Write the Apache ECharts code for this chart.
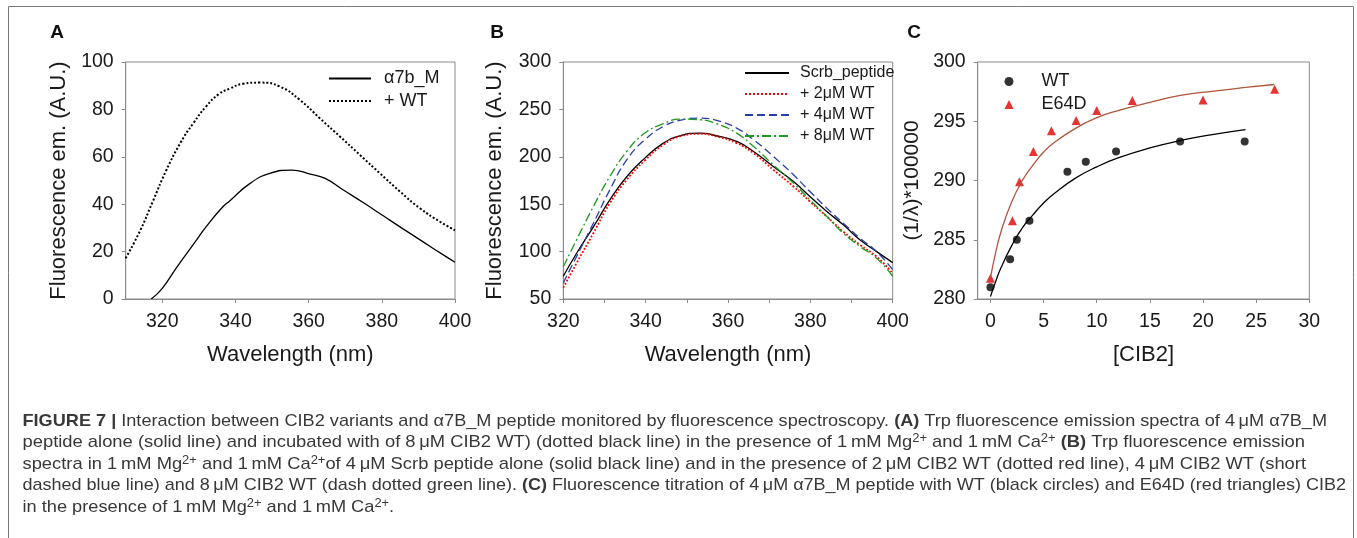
<!DOCTYPE html>
<html>
<head>
<meta charset="utf-8">
<script src="https://cdn.jsdelivr.net/npm/echarts@6.0.0/dist/echarts.min.js"></script>
<style>
html,body{margin:0;padding:0;background:#fff;}
#c{width:1357px;height:538px;}
</style>
</head>
<body>
<div id="c"></div>
<script>
// ---------- Panel A data ----------
const aSolidX = [317, 320, 324, 328, 332, 336, 338.5, 344, 349.4, 355.4, 360.4, 364.5, 369.5, 375, 380.4, 385.8, 391.3, 396.8, 400];
const aSolidY = [0, 4.5, 13.5, 22, 30.5, 38, 41.5, 48.8, 53, 54.4, 52.7, 50.9, 46, 40.6, 35.1, 29.6, 24.1, 18.6, 15.5];
const aDotX = [310, 314, 317.5, 321, 325, 328.5, 332, 335.5, 338.5, 342, 346.7, 352.2, 357.6, 363.1, 368.6, 374, 379.5, 385, 390.4, 395.9, 400];
const aDotY = [17.2, 29, 41.5, 54, 66, 74.2, 81.3, 86.5, 88.8, 90.8, 91.3, 89.6, 84, 76.2, 68.5, 60.8, 53, 45.3, 38.3, 32.6, 29];
const aXTicks = [320, 340, 360, 380, 400];

// ---------- Panel B data ----------
const bX = [320, 323.2, 327.3, 331.3, 335.4, 339.8, 344.3, 348.3, 353.2, 357.2, 362.1, 366.2, 371, 375.9, 379.9, 384, 388, 392.1, 396.1, 400];
const bScrb = [74, 98, 126, 154.6, 179, 198.6, 214.4, 222.2, 225, 222.2, 216.2, 205.6, 189.8, 173.9, 158.1, 142.3, 128.2, 112.3, 100, 88.4];
const b2uM = [62, 87.7, 119.4, 151, 175.7, 196.1, 212.7, 221.5, 224.3, 221.5, 214.4, 203.9, 186.3, 168.7, 152.8, 137, 121.1, 107, 94.7, 77];
const b4uM = [67, 94.7, 129.9, 165.1, 196.8, 218, 232, 238.4, 240.8, 238.4, 230.3, 218, 200.4, 181, 163.4, 145.8, 129.9, 114.1, 100, 81];
const b8uM = [84, 112.3, 147.5, 179.2, 205.6, 225, 234.9, 239.8, 239.1, 234.9, 225, 210.9, 191.5, 172.2, 154.6, 137, 119.4, 105.3, 93, 74];
const bXTicks = [320, 330, 340, 350, 360, 370, 380, 390, 400];
const bXLabels = [320, 340, 360, 380, 400];

// ---------- Panel C data ----------
const cWtX = [0, 1.85, 2.48, 3.67, 7.24, 8.97, 11.82, 17.84, 23.92];
const cWtY = [281.0, 283.35, 285.0, 286.6, 290.73, 291.58, 292.45, 293.3, 293.3];
const cE64X = [0, 2.07, 2.73, 4.04, 5.74, 8.06, 10, 13.35, 20, 26.74];
const cE64Y = [281.75, 286.6, 289.9, 292.45, 294.2, 295.07, 295.9, 296.76, 296.8, 297.7];
const cWtFitX = [0, 0.5, 1, 2, 3, 4, 5, 6, 8, 10, 12, 15, 18, 21, 24];
const cWtFitY = [280.2, 281.5, 282.65, 284.5, 286.0, 287.1, 288.1, 288.9, 290.2, 291.15, 291.9, 292.75, 293.4, 293.9, 294.3];
const cE64FitX = [0, 0.5, 1, 2, 3, 4, 5, 6, 8, 10, 12, 15, 18, 21, 24, 26.7];
const cE64FitY = [281.8, 283.95, 285.7, 288.2, 290.0, 291.3, 292.4, 293.2, 294.4, 295.3, 295.9, 296.6, 297.2, 297.55, 297.85, 298.1];
const cXTicks = [0, 5, 10, 15, 20, 25, 30];

// ---------- caption text ----------
const capLines = [
  "{b|FIGURE 7 |} Interaction between CIB2 variants and α7B_M peptide monitored by fluorescence spectroscopy. {b|(A)} Trp fluorescence emission spectra of 4\u2009μM α7B_M",
  "peptide alone (solid line) and incubated with of 8\u2009μM CIB2 WT) (dotted black line) in the presence of 1\u2009mM Mg{sup|2+} and 1\u2009mM Ca{sup|2+} {b|(B)} Trp fluorescence emission",
  "spectra in 1\u2009mM Mg{sup|2+} and 1\u2009mM Ca{sup|2+}of 4\u2009μM Scrb peptide alone (solid black line) and in the presence of 2\u2009μM CIB2 WT (dotted red line), 4\u2009μM CIB2 WT (short",
  "dashed blue line) and 8\u2009μM CIB2 WT (dash dotted green line). {b|(C)} Fluorescence titration of 4\u2009μM α7B_M peptide with WT (black circles) and E64D (red triangles) CIB2",
  "in the presence of 1\u2009mM Mg{sup|2+} and 1\u2009mM Ca{sup|2+}."
];
const capTargets = [1304.5, 1282.5, 1283.5, 1323.5, null];

const F = 'Liberation Sans, Arial, sans-serif';
const AX = '#8a8a8a';
const TXT = '#1a1a1a';

function zip(xs, ys) { return xs.map((x, i) => [x, ys[i]]); }

function xAx(g, min, max, labels, ticks, name) {
  return {
    type: 'value', gridIndex: g, min: min, max: max,
    name: name, nameLocation: 'middle', nameGap: 45,
    nameTextStyle: { fontSize: 22, color: TXT, fontFamily: F },
    axisLine: { show: true, onZero: false, lineStyle: { color: AX, width: 1 } },
    axisTick: { show: true, inside: false, length: 4, customValues: ticks, lineStyle: { color: AX } },
    axisLabel: { customValues: labels, fontSize: 19.5, color: TXT, fontFamily: F, margin: 13 },
    splitLine: { show: false }
  };
}
function yAx(g, min, max, interval, name, gap, fs) {
  return {
    type: 'value', gridIndex: g, min: min, max: max, interval: interval,
    name: name, nameLocation: 'middle', nameGap: gap,
    nameTextStyle: { fontSize: fs, color: TXT, fontFamily: F },
    axisLine: { show: true, onZero: false, lineStyle: { color: AX, width: 1 } },
    axisTick: { show: true, inside: false, length: 4, lineStyle: { color: AX } },
    axisLabel: { fontSize: 19.5, color: TXT, fontFamily: F, margin: 12 },
    splitLine: { show: false }
  };
}
function lineS(name, xi, xs, ys, color, type, width) {
  return {
    type: 'line', name: name, xAxisIndex: xi, yAxisIndex: xi,
    data: zip(xs, ys), symbol: 'none', smooth: 0.5,
    lineStyle: { color: color, type: type, width: width }, itemStyle: { color: color },
    silent: true
  };
}

const capRich = {
  b: { fontWeight: 'bold', fontSize: 17, fontFamily: F, color: '#2a2a2a' },
  sup: { fontSize: 12, fontFamily: F, color: '#2a2a2a', verticalAlign: 'top', lineHeight: 12 }
};
function capStyle(text) {
  return { text: text, fontSize: 17, fontFamily: F, fill: '#383838', rich: capRich, verticalAlign: 'middle', align: 'left', lineHeight: 20 };
}
function measureCap(text) {
  try {
    const t = new echarts.graphic.Text({ style: capStyle(text) });
    return t.getBoundingRect().width;
  } catch (e) { return null; }
}
const scales = capLines.map((l, i) => {
  const w = measureCap(l);
  if (!w || !capTargets[i]) return null;
  return capTargets[i] / w;
});
const valid = scales.filter(s => s);
const avgScale = valid.length ? valid.reduce((a, b) => a + b, 0) / valid.length : 0.85;
const capY0 = 421, capDY = 21.6;
const capGraphics = capLines.map((l, i) => ({
  type: 'text', x: 22.5, y: capY0 + capDY * i, scaleX: scales[i] || avgScale, scaleY: 1,
  style: capStyle(l), silent: true
}));

const legendText = (fs, pad) => ({ fontSize: fs, color: TXT, fontFamily: F, padding: [0, 0, 0, pad] });

const chart = echarts.init(document.getElementById('c'), null, { renderer: 'canvas' });
chart.setOption({
  animation: false,
  backgroundColor: '#fff',
  grid: [
    { left: 125.7, top: 62, width: 329.3, height: 237, show: true, borderColor: AX, borderWidth: 1, containLabel: false },
    { left: 563.3, top: 62, width: 329.4, height: 237, show: true, borderColor: AX, borderWidth: 1, containLabel: false },
    { left: 977.7, top: 62, width: 331.6, height: 237, show: true, borderColor: AX, borderWidth: 1, containLabel: false }
  ],
  xAxis: [
    xAx(0, 310, 400, aXTicks, aXTicks, 'Wavelength (nm)'),
    xAx(1, 320, 400, bXLabels, bXTicks, 'Wavelength (nm)'),
    xAx(2, -1.2, 30, cXTicks, cXTicks, '[CIB2]')
  ],
  yAxis: [
    yAx(0, 0, 100, 20, 'Fluorescence em. (A.U.)', 56, 22),
    yAx(1, 50, 300, 50, 'Fluorescence em. (A.U.)', 57, 22),
    yAx(2, 280, 300, 5, '(1/λ)*100000', 55, 21)
  ],
  legend: [
    { left: 328, top: 69.5, padding: 0, orient: 'vertical', itemWidth: 42, itemHeight: 14, itemGap: 4.5, selectedMode: false,
      itemStyle: { opacity: 0 },
      data: ['α7b_M', '+ WT'], textStyle: legendText(18, 8) },
    { left: 744, top: 65, padding: 0, orient: 'vertical', itemWidth: 44, itemHeight: 14, itemGap: 5, selectedMode: false,
      itemStyle: { opacity: 0 },
      data: ['Scrb_peptide', '+ 2μM WT', '+ 4μM WT', '+ 8μM WT'], textStyle: legendText(16, 6) },
    { left: 1004.5, top: 72.5, padding: 0, orient: 'vertical', itemWidth: 9, itemHeight: 9, itemGap: 5, selectedMode: false,
      data: ['WT', 'E64D'], textStyle: legendText(18, 23) }
  ],
  series: [
    lineS('α7b_M', 0, aSolidX, aSolidY, '#000', 'solid', 1.3),
    lineS('+ WT', 0, aDotX, aDotY, '#000', 'dotted', 2),
    lineS('Scrb_peptide', 1, bX, bScrb, '#000', 'solid', 1.3),
    lineS('+ 2μM WT', 1, bX, b2uM, '#ff0000', 'dotted', 1.8),
    lineS('+ 4μM WT', 1, bX, b4uM, '#2a3fa8', [8, 4], 1.3),
    lineS('+ 8μM WT', 1, bX, b8uM, '#1c9a1c', [9, 3, 2, 3], 1.3),
    lineS('WT fit', 2, cWtFitX, cWtFitY, '#000', 'solid', 1.3),
    lineS('E64D fit', 2, cE64FitX, cE64FitY, '#b0553b', 'solid', 1.3),
    { type: 'scatter', name: 'WT', xAxisIndex: 2, yAxisIndex: 2, data: zip(cWtX, cWtY), symbol: 'circle', symbolSize: 8,
      itemStyle: { color: '#000' }, silent: true },
    { type: 'scatter', name: 'E64D', xAxisIndex: 2, yAxisIndex: 2, data: zip(cE64X, cE64Y), symbol: 'triangle', symbolSize: 9,
      itemStyle: { color: '#e00000' }, silent: true }
  ],
  graphic: [
    { type: 'polyline', shape: { points: [[8.5, 538], [8.5, 6.5], [1353.5, 6.5], [1353.5, 538]] },
      style: { stroke: '#7a7a7a', lineWidth: 1, fill: null }, silent: true },
    { type: 'text', x: 57, y: 33, style: { text: 'A', fontSize: 19, fontWeight: 'bold', fontFamily: F, fill: '#111', align: 'center', verticalAlign: 'middle' } },
    { type: 'text', x: 497, y: 33, style: { text: 'B', fontSize: 19, fontWeight: 'bold', fontFamily: F, fill: '#111', align: 'center', verticalAlign: 'middle' } },
    { type: 'text', x: 914, y: 33, style: { text: 'C', fontSize: 19, fontWeight: 'bold', fontFamily: F, fill: '#111', align: 'center', verticalAlign: 'middle' } }
  ].concat(capGraphics)
});
</script>
</body>
</html>
